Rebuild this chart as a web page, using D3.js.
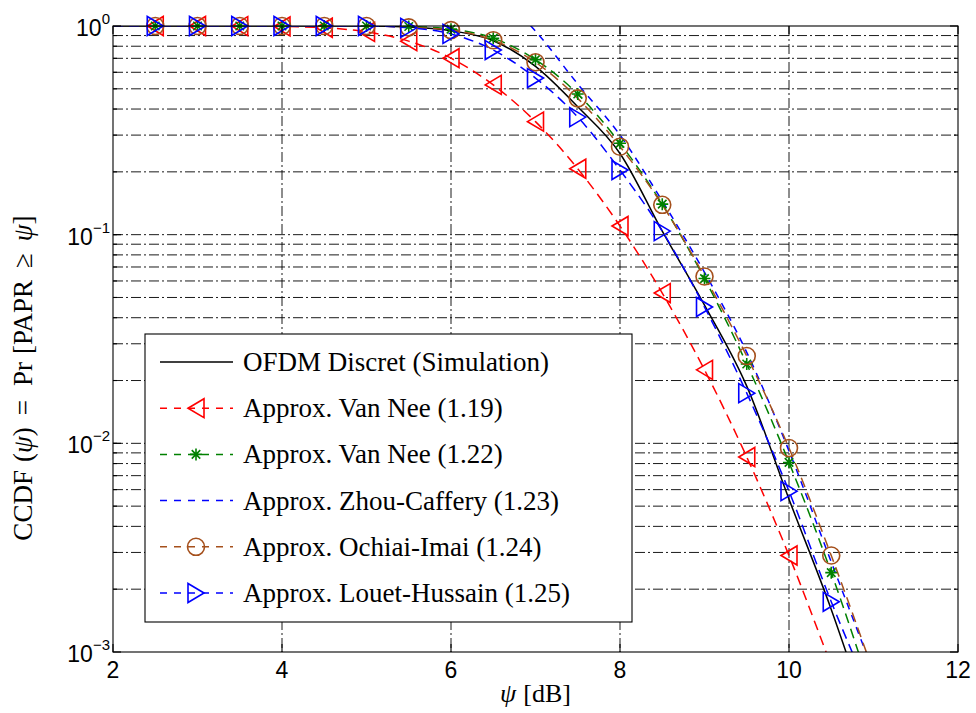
<!DOCTYPE html>
<html>
<head>
<meta charset="utf-8">
<script src="https://cdn.jsdelivr.net/npm/d3@7"></script>
<style>
  body { margin: 0; background: #fff; }
</style>
</head>
<body>
<div id="container"></div>
<script>
// values (psi in dB, CCDF)
var psi = [2, 2.5, 3, 3.5, 4, 4.5, 5, 5.5, 6, 6.5, 7, 7.5, 8, 8.5, 9, 9.5, 10, 10.5, 11];
var simulation = [1, 1, 1, 1, 1, 1, 1, 0.99, 0.95, 0.85, 0.64, 0.41, 0.245, 0.104, 0.046, 0.0188, 0.0054, 0.0016, 0.0004];
var vanNee119 = [1, 1, 1, 0.999, 0.995, 0.981, 0.937, 0.846, 0.701, 0.522, 0.348, 0.207, 0.110, 0.0525, 0.0225, 0.0086, 0.0029, 0.00086, 0.00025];
var vanNee122 = [1, 1, 1, 1, 1, 1, 1, 0.995, 0.966, 0.874, 0.69, 0.472, 0.274, 0.140, 0.0616, 0.0240, 0.0081, 0.0024, 0.0006];
var ochiaiImai = [1, 1, 1, 1, 1, 1, 1, 0.985, 0.955, 0.855, 0.67, 0.45, 0.264, 0.139, 0.063, 0.0262, 0.0095, 0.0029, 0.0008];
var louetHussain = [1, 1, 1, 1, 1, 1, 1, 0.98, 0.916, 0.767, 0.563, 0.366, 0.204, 0.104, 0.045, 0.0174, 0.0059, 0.00174, 0.00058];
// Zhou-Caffery has no markers and is above 1 before ~7 dB
var zcPsi = [6.5, 7, 7.5, 8, 8.5, 9, 9.5, 10, 10.5, 11];
var zhouCaffery = [1.5, 0.945, 0.527, 0.30, 0.145, 0.066, 0.0273, 0.0092, 0.0027, 0.0008];

var markerPsi = [2.5, 3, 3.5, 4, 4.5, 5, 5.5, 6, 6.5, 7, 7.5, 8, 8.5, 9, 9.5, 10, 10.5];

var xTicks = [2, 4, 6, 8, 10, 12];
var yTicks = [1e-3, 1e-2, 1e-1, 1];
var yExp = ['\u22123', '\u22122', '\u22121', '0'];

var legendLabels = ['OFDM Discret (Simulation)', 'Approx. Van Nee (1.19)', 'Approx. Van Nee (1.22)',
                    'Approx. Zhou-Caffery (1.23)', 'Approx. Ochiai-Imai (1.24)', 'Approx. Louet-Hussain (1.25)'];

var w = 976, h = 713;
var margin = {top: 26, right: 18, bottom: 61, left: 113},
    width = w - margin.left - margin.right,
    height = h - margin.top - margin.bottom;

var svg = d3.select('#container').append('svg')
    .attr('width', w).attr('height', h)
    .style('background-color', '#fff');

var x = d3.scaleLinear().domain([2, 12]).range([margin.left, margin.left + width]);
var y = d3.scaleLog().domain([1e-3, 1]).range([margin.top + height, margin.top]);

svg.append('clipPath').attr('id', 'plotclip')
   .append('rect')
   .attr('x', margin.left).attr('y', margin.top)
   .attr('width', width).attr('height', height);

// grid (dash-dot, matlab style)
var gridStyle = function(sel) {
    sel.attr('stroke', '#000').attr('stroke-width', 0.9)
       .attr('stroke-dasharray', '10,3,2,3').attr('fill', 'none');
};
var minorY = [];
[-3, -2, -1].forEach(function(e) {
    for (var k = 1; k <= 9; k++) {
        if (k === 1 && e === -3) continue;
        minorY.push(k * Math.pow(10, e));
    }
});
svg.append('g').selectAll('line').data(minorY).enter().append('line')
   .attr('x1', margin.left).attr('x2', margin.left + width)
   .attr('y1', function(d) { return y(d); }).attr('y2', function(d) { return y(d); })
   .call(gridStyle);
svg.append('g').selectAll('line').data(xTicks.slice(1, -1)).enter().append('line')
   .attr('x1', function(d) { return x(d); }).attr('x2', function(d) { return x(d); })
   .attr('y1', margin.top).attr('y2', margin.top + height)
   .call(gridStyle);

// series
var series = [
    {xs: psi, ys: simulation, color: '#000', dash: null, marker: null},
    {xs: psi, ys: vanNee119, color: '#ff0000', dash: '10,6', marker: 'left'},
    {xs: psi, ys: vanNee122, color: '#008000', dash: '10,6', marker: 'star'},
    {xs: zcPsi, ys: zhouCaffery, color: '#0000ff', dash: '7,6', marker: null},
    {xs: psi, ys: ochiaiImai, color: '#a5501c', dash: '10,6', marker: 'circle'},
    {xs: psi, ys: louetHussain, color: '#0000ff', dash: '10,6', marker: 'right'}
];

var line = d3.line()
    .x(function(d) { return x(d[0]); })
    .y(function(d) { return y(d[1]); })
    .curve(d3.curveMonotoneX);

var lines = svg.append('g').attr('clip-path', 'url(#plotclip)');
series.forEach(function(s) {
    lines.append('path')
         .datum(d3.zip(s.xs, s.ys))
         .attr('d', line)
         .attr('fill', 'none')
         .attr('stroke', s.color)
         .attr('stroke-width', 1.5)
         .attr('stroke-dasharray', s.dash);
});

function drawMarker(g, type, color) {
    var sw = 1.6;
    if (type === 'left') {
        g.append('path').attr('d', 'M-8,0L8,-9.5L8,9.5Z')
         .attr('fill', 'none').attr('stroke', color).attr('stroke-width', sw);
    } else if (type === 'right') {
        g.append('path').attr('d', 'M8,0L-8,-9.5L-8,9.5Z')
         .attr('fill', 'none').attr('stroke', color).attr('stroke-width', sw);
    } else if (type === 'circle') {
        g.append('circle').attr('r', 8.5)
         .attr('fill', 'none').attr('stroke', color).attr('stroke-width', sw);
    } else if (type === 'star') {
        var r = 6, d = r * 0.7071;
        g.append('path')
         .attr('d', 'M' + (-r) + ',0L' + r + ',0M0,' + (-r) + 'L0,' + r +
                    'M' + (-d) + ',' + (-d) + 'L' + d + ',' + d + 'M' + (-d) + ',' + d + 'L' + d + ',' + (-d))
         .attr('fill', 'none').attr('stroke', color).attr('stroke-width', sw);
    }
}

var markers = svg.append('g');
series.forEach(function(s) {
    if (!s.marker) return;
    s.xs.forEach(function(px, i) {
        if (markerPsi.indexOf(px) < 0 || s.ys[i] < 1e-3) return;
        var g = markers.append('g')
            .attr('transform', 'translate(' + x(px) + ',' + y(s.ys[i]) + ')');
        drawMarker(g, s.marker, s.color);
    });
});

// axes box and ticks (inside, matlab style)
var axes = svg.append('g').attr('stroke', '#000').attr('stroke-width', 1.1);
axes.append('rect')
    .attr('x', margin.left).attr('y', margin.top)
    .attr('width', width).attr('height', height)
    .attr('fill', 'none');
xTicks.forEach(function(t) {
    axes.append('line').attr('x1', x(t)).attr('x2', x(t))
        .attr('y1', margin.top + height).attr('y2', margin.top + height - 8);
    axes.append('line').attr('x1', x(t)).attr('x2', x(t))
        .attr('y1', margin.top).attr('y2', margin.top + 8);
});
yTicks.forEach(function(t) {
    axes.append('line').attr('x1', margin.left).attr('x2', margin.left + 8)
        .attr('y1', y(t)).attr('y2', y(t));
    axes.append('line').attr('x1', margin.left + width).attr('x2', margin.left + width - 8)
        .attr('y1', y(t)).attr('y2', y(t));
});
minorY.forEach(function(t) {
    axes.append('line').attr('x1', margin.left).attr('x2', margin.left + 4)
        .attr('y1', y(t)).attr('y2', y(t));
    axes.append('line').attr('x1', margin.left + width).attr('x2', margin.left + width - 4)
        .attr('y1', y(t)).attr('y2', y(t));
});

// tick labels
svg.append('g').selectAll('text').data(xTicks).enter().append('text')
   .attr('x', function(d) { return x(d); })
   .attr('y', margin.top + height + 26)
   .attr('text-anchor', 'middle')
   .style('font-family', '"Liberation Sans", Arial, sans-serif')
   .style('font-size', '23px')
   .text(function(d) { return d; });

var yl = svg.append('g').selectAll('text').data(yTicks).enter().append('text')
   .attr('x', margin.left - 3)
   .attr('y', function(d) { return y(d) + 10; })
   .attr('text-anchor', 'end')
   .style('font-family', '"Liberation Sans", Arial, sans-serif')
   .style('font-size', '23px');
yl.append('tspan').text('10');
yl.append('tspan').attr('dy', -12).style('font-size', '15px')
  .text(function(d, i) { return yExp[i]; });

// axis labels
var serif = '"Liberation Serif", "Times New Roman", serif';
var xlab = svg.append('text')
   .attr('x', margin.left + width / 2)
   .attr('y', margin.top + height + 50)
   .attr('text-anchor', 'middle')
   .style('font-family', serif).style('font-size', '26px');
xlab.append('tspan').style('font-style', 'italic').text('\u03c8');
xlab.append('tspan').attr('dx', 7).text('[dB]');

var ylab = svg.append('text')
   .attr('transform', 'translate(32,378) rotate(-90)')
   .attr('text-anchor', 'middle')
   .style('font-family', serif).style('font-size', '27px');
ylab.append('tspan').text('CCDF');
ylab.append('tspan').attr('dx', 8).text('(');
ylab.append('tspan').style('font-style', 'italic').text('\u03c8');
ylab.append('tspan').text(')');
ylab.append('tspan').attr('dx', 12).text('=');
ylab.append('tspan').attr('dx', 14).text('Pr');
ylab.append('tspan').attr('dx', 8).text('[PAPR');
ylab.append('tspan').attr('dx', 12).text('\u2265');
ylab.append('tspan').attr('dx', 12).style('font-style', 'italic').text('\u03c8');
ylab.append('tspan').text(']');

// legend
var legend = svg.append('g');
legend.append('rect')
   .attr('x', 145).attr('y', 334).attr('width', 487).attr('height', 288)
   .attr('fill', '#fff').attr('stroke', '#000').attr('stroke-width', 1.1);
var rowY = d3.scalePoint().domain(d3.range(legendLabels.length)).range([362, 593]);
series.forEach(function(s, i) {
    var ry = rowY(i);
    legend.append('line')
        .attr('x1', 160).attr('x2', 233).attr('y1', ry).attr('y2', ry)
        .attr('stroke', s.color).attr('stroke-width', 1.5)
        .attr('stroke-dasharray', s.dash ? '7,7' : null);
    if (s.marker) {
        var g = legend.append('g').attr('transform', 'translate(196,' + ry + ')');
        drawMarker(g, s.marker, s.color);
    }
    legend.append('text')
        .attr('x', 243).attr('y', ry + 9)
        .style('font-family', serif).style('font-size', '27px')
        .text(legendLabels[i]);
});
</script>
</body>
</html>
